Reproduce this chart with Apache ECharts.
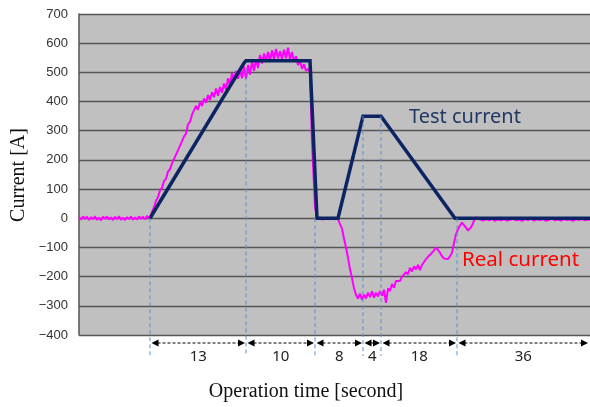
<!DOCTYPE html>
<html><head><meta charset="utf-8">
<script src="https://cdn.jsdelivr.net/npm/echarts@6/dist/echarts.min.js"></script>
<style>html,body{margin:0;padding:0;background:#fff}#c{width:590px;height:407px}</style>
</head><body><div id="c"></div>
<script>
// x unit: schematic time position along the plot (0 .. 511)
const xMax = 511;
const yMin = -400, yMax = 700, yStep = 100;

// Test current (schematic profile)
const testTime  = [71, 165, 167, 231, 238, 259, 284, 302, 376, 511];
const testValue = [0, 532, 540, 540, 0, 0, 350, 350, 0, 0];

// Real current (measured, noisy)
const realCurrent = [
 [0,3],[2,-4],[4,6],[6,-2],[8,5],[10,-6],[12,4],[14,-3],[16,7],[18,-5],[20,2],[22,-7],[24,5],[26,-2],[28,6],[30,-4],
 [32,3],[34,-6],[36,5],[38,-3],[40,7],[42,-5],[44,2],[46,-6],[48,4],[50,-3],[52,6],[54,-5],[56,3],[58,-4],[60,6],[62,-2],
 [64,5],[66,-4],[68,8],[70,2],
 [71,0],[73,22],[75,38],[77,60],[79,72],[81,96],[83,104],[85,128],[87,135],[89,160],[91,168],[93,188],[95,192],[97,218],
 [99,222],[101,248],[103,252],[105,280],[107,290],[109,322],[111,330],[113,355],[115,360],[117,385],[119,372],[121,398],
 [123,385],[125,410],[127,396],[129,422],[131,405],[133,432],[135,415],[137,445],[139,420],[141,450],[143,430],[145,462],
 [147,440],[149,480],[151,455],[153,498],[155,470],[157,505],[159,478],[161,512],[163,480],[165,520],[167,478],[169,525],
 [171,492],[173,538],[175,505],[177,545],[179,515],[181,560],[183,530],[185,565],[187,538],[189,570],[191,540],[193,575],
 [195,545],[197,580],[199,548],[201,572],[203,545],[205,578],[207,548],[209,585],[211,545],[213,570],[215,538],[217,555],
 [219,525],[221,540],[223,512],[225,528],[227,505],[229,512],[231,498],[233,260],[236,40],
 [238,-3],[241,2],[244,-5],[247,1],[250,-4],[253,2],[256,-3],[259,-2],
 [261,-20],[263,-35],[265,-70],[267,-100],[269,-135],[271,-175],[273,-205],[275,-240],[277,-262],[279,-275],[281,-258],
 [283,-280],[285,-262],[287,-275],[289,-255],[291,-270],[293,-250],[295,-272],[297,-255],[299,-268],[301,-250],[303,-265],
 [305,-245],[307,-290],[309,-240],[311,-250],[313,-225],[315,-238],[317,-215],[319,-220],
 [321,-215],[323,-200],[325,-205],[327,-185],[329,-192],[331,-170],[333,-182],[335,-165],[337,-175],[339,-160],[341,-178],
 [343,-160],[345,-150],[347,-140],[349,-132],[351,-125],[353,-118],[355,-110],[357,-100],[359,-105],[361,-118],[363,-130],
 [365,-138],[367,-142],[369,-140],[371,-130],[373,-118],[375,-85],[377,-55],[379,-38],[381,-25],[383,-15],[385,-20],
 [387,-32],[389,-42],[391,-35],[393,-25],[395,-8],[397,3],[399,-2],
 [401,-4],[404,-8],[407,-3],[410,-7],[413,-2],[416,-9],[419,-4],[422,-7],[425,-3],[428,-8],[431,-5],[434,-2],[437,-7],
 [440,-4],[443,-9],[446,-3],[449,-6],[452,-2],[455,-8],[458,-4],[461,-6],[464,-3],[467,-9],[470,-5],[473,-2],[476,-7],
 [479,-4],[482,-8],[485,-3],[488,-6],[491,-4],[494,-9],[497,-3],[500,-6],[503,-2],[506,-7],[509,-4],[511,-5]
];

// Phase boundaries and durations (seconds)
const phaseBounds = [71, 167, 236, 284, 302, 378, 511];
const phaseLabels = ['13', '10', '8', '4', '18', '36'];
const guideTopValue = [0, 510, 0, 350, 350, 0];

const chart = echarts.init(document.getElementById('c'), null, {renderer: 'canvas'});
const option = {
  animation: false,
  backgroundColor: '#ffffff',
  grid: {left: 79, right: 0, top: 14, bottom: 72, show: true, backgroundColor: '#c0c0c0', borderWidth: 0},
  xAxis: {
    type: 'value', min: 0, max: xMax,
    axisLine: {show: false}, axisTick: {show: false}, axisLabel: {show: false}, splitLine: {show: false}
  },
  yAxis: {
    type: 'value', min: yMin, max: yMax, interval: yStep,
    axisLine: {show: true, lineStyle: {color: '#555', width: 1.5}},
    axisTick: {show: false},
    axisLabel: {
      color: '#333', fontSize: 13, fontFamily: 'Liberation Sans, Arial, sans-serif', margin: 11,
      formatter: v => v < 0 ? '\u2212' + Math.abs(v) : String(v)
    },
    splitLine: {show: true, lineStyle: {color: '#555', width: 1.3}}
  },
  series: [
    {
      type: 'line', name: 'Real current', data: realCurrent, showSymbol: false, symbol: 'none',
      lineStyle: {color: '#ff00ff', width: 2}, z: 2
    },
    {
      type: 'line', name: 'Test current', data: testTime.map((t, i) => [t, testValue[i]]), showSymbol: false, symbol: 'none',
      lineStyle: {color: '#0c2462', width: 3.5, join: 'miter'}, z: 3
    }
  ]
};
chart.setOption(option);

function px(x, y) { return chart.convertToPixel({gridIndex: 0}, [x, y]); }

const g = [];
const arrowY = 343, guideBottom = 356;
// vertical guide lines
phaseBounds.slice(0, 6).forEach((b, i) => {
  const top = px(b, guideTopValue[i]);
  g.push({type: 'line', shape: {x1: top[0], y1: top[1], x2: top[0], y2: guideBottom},
    style: {stroke: '#5b8fd3', lineWidth: 1, lineDash: [4, 3]}, z: 10});
});
// dimension arrows and labels
for (let i = 0; i < phaseLabels.length; i++) {
  const x0 = px(phaseBounds[i], 0)[0] + 1.5;
  const x1 = Math.min(px(phaseBounds[i + 1], 0)[0], 589) - 1;
  g.push({type: 'line', shape: {x1: x0 + 6, y1: arrowY, x2: x1 - 6, y2: arrowY},
    style: {stroke: '#000', lineWidth: 1, lineDash: [3, 2]}, z: 10});
  g.push({type: 'polygon', shape: {points: [[x0, arrowY], [x0 + 7, arrowY - 3.5], [x0 + 7, arrowY + 3.5]]},
    style: {fill: '#000'}, z: 10});
  g.push({type: 'polygon', shape: {points: [[x1, arrowY], [x1 - 7, arrowY - 3.5], [x1 - 7, arrowY + 3.5]]},
    style: {fill: '#000'}, z: 10});
  g.push({type: 'text', x: (x0 + x1) / 2, y: 357,
    style: {text: phaseLabels[i], fill: '#222', font: '15px "Noto Sans", sans-serif', textAlign: 'center', textVerticalAlign: 'middle'}, z: 10});
}
// series annotations
g.push({type: 'text', x: 409, y: 117,
  style: {text: 'Test current', fill: '#1f3864', font: '20px "Noto Sans", sans-serif', textAlign: 'left', textVerticalAlign: 'middle'}, z: 10});
g.push({type: 'text', x: 462, y: 260,
  style: {text: 'Real current', fill: '#ff0000', font: '20.5px "Noto Sans", sans-serif', textAlign: 'left', textVerticalAlign: 'middle'}, z: 10});
// axis titles
g.push({type: 'text', x: 306, y: 392,
  style: {text: 'Operation time [second]', fill: '#111', font: '20px "Liberation Serif", serif', textAlign: 'center', textVerticalAlign: 'middle'}, z: 10});
g.push({type: 'text', x: 19, y: 175, rotation: Math.PI / 2,
  style: {text: 'Current [A]', fill: '#111', font: '20px "Liberation Serif", serif', textAlign: 'center', textVerticalAlign: 'middle'}, z: 10});

chart.setOption({graphic: g});
</script>
</body></html>
